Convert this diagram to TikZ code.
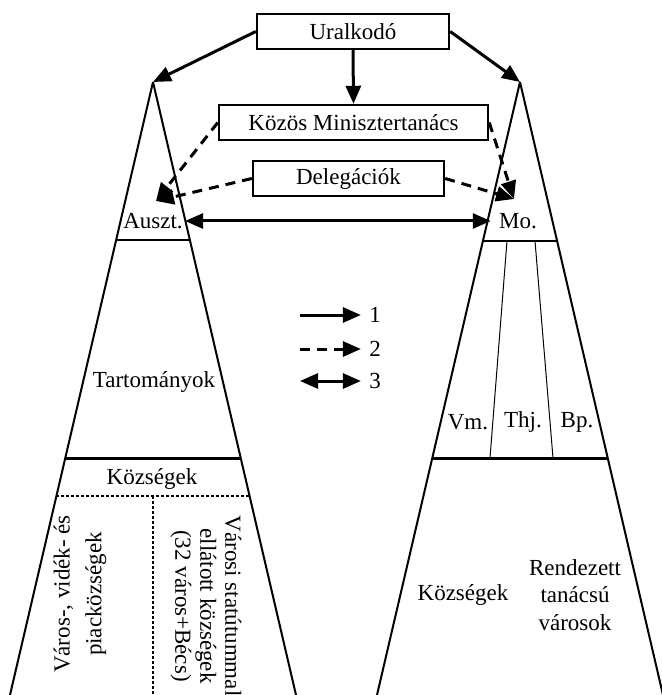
\documentclass[tikz,border=0pt]{standalone}
\usepackage{fontspec}
\setmainfont{Liberation Serif}
\usetikzlibrary{arrows.meta}

\tikzset{
  box/.style={draw,line width=1.2pt,minimum height=17.5pt,inner sep=1pt},
  arr/.style={line width=1.5pt,-{Triangle[length=9pt,width=7.5pt]}},
  darr/.style={line width=1.5pt,dash pattern=on 5pt off 3.5pt,-{Triangle[length=9pt,width=7.5pt]}},
  dblarr/.style={line width=1.5pt,{Triangle[length=9pt,width=7.5pt]}-{Triangle[length=9pt,width=7.5pt]}},
  side/.style={line width=1pt},
  lbl/.style={inner sep=1pt}
}

\begin{document}
\begin{tikzpicture}[x=0.5pt,y=-0.5pt,font=\fontsize{11.5}{13.8}\selectfont]
    \useasboundingbox (0,0) rectangle (661,695);
    % vezeto szervek
    \node[box,minimum width=96pt] (ural) at (353,31.5) {Uralkodó};
    \node[box,minimum width=134.5pt] (kozos) at (353.5,122.5) {Közös Minisztertanács};
    \node[box,minimum width=95.5pt] (deleg) at (348.5,178.5) {Delegációk};
    \coordinate (apexL) at (153,82);
    \coordinate (apexR) at (520,82);
    \coordinate (tipL) at (156,201);
    \coordinate (tipR) at (514,199);
    % bal haromszog
    \draw[side] (apexL)--(10,695);
    \draw[side] (apexL)--(296,695);
    \draw[line width=0.8pt] (116.1,240)--(189.9,240);
    \draw[line width=1.5pt] (65.3,458)--(240.7,458);
    \draw[line width=0.6pt,dash pattern=on 1.5pt off 1pt] (56.4,496)--(249.6,496);
    \draw[line width=0.6pt,dash pattern=on 1.5pt off 1pt] (153,496)--(153,695);
    \node[lbl] (auszt) at (153,221) {Auszt.};
    \node[lbl] (tart) at (154,382) {Tartományok};
    \node[lbl] (kozsL) at (152,479) {Községek};
    \node[lbl,rotate=90,align=center] (varos) at (80,594) {Város-, vidék- és\\[2pt] piacközségek};
    \node[lbl,rotate=-90,align=center,font=\fontsize{11.5}{12.5}\selectfont] (statut) at (206,606)
      {Városi statútummal\\ ellátott községek\\ (32 város+Bécs)};
    % jobb haromszog
    \draw[side] (apexR)--(377,695);
    \draw[side] (apexR)--(663,695);
    \draw[line width=0.8pt] (482.9,241)--(557.1,241);
    \draw[line width=1.5pt] (432.3,458)--(607.7,458);
    \draw[line width=0.5pt] (507,241)--(490,458);
    \draw[line width=0.5pt] (535,241)--(553,458);
    \node[lbl] (mo) at (518,221) {Mo.};
    \node[lbl] (vm) at (468,422) {Vm.};
    \node[lbl] (thj) at (523,422) {Thj.};
    \node[lbl] (bp) at (577,422) {Bp.};
    \node[lbl] (kozsR) at (463,595) {Községek};
    \node[lbl,align=center] (rtv) at (575,595) {Rendezett\\ tanácsú\\ városok};
    % nyilak
    \draw[arr] (ural.west)--(apexL);
    \draw[arr] (ural.east)--(apexR);
    \draw[arr] (ural.south)--(kozos.north);
    \draw[darr] (kozos.west)--(tipL);
    \draw[darr] (deleg.west)--(tipL);
    \draw[darr] (kozos.east)--(tipR);
    \draw[darr] (deleg.east)--(tipR);
    \draw[dblarr,shorten >=3pt] (auszt.east)--(auszt.east -| mo.west);
    % jelmagyarazat
    \coordinate (l1) at (300,315);
    \coordinate (l2) at (300,349);
    \coordinate (l3) at (300,381);
    \node[lbl] (n1) at (375,315) {1};
    \node[lbl] (n2) at (375,349) {2};
    \node[lbl] (n3) at (375,381) {3};
    \draw[arr,shorten >=3pt] (l1)--(n1);
    \draw[darr,shorten >=3pt] (l2)--(n2);
    \draw[dblarr,shorten >=3pt] (l3)--(n3);
\end{tikzpicture}
\end{document}
